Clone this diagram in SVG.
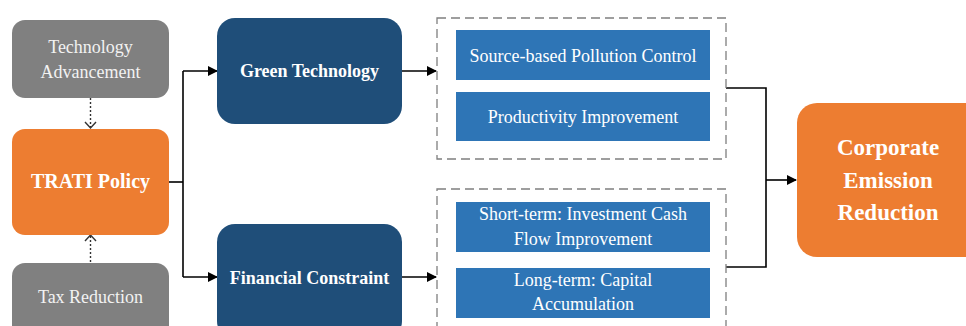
<svg xmlns="http://www.w3.org/2000/svg" width="966" height="326" viewBox="0 0 966 326">
<style>
text{font-family:"Liberation Serif","Times New Roman",serif;fill:#fff;text-anchor:middle}
.reg{font-size:18px}
.bold{font-weight:bold;font-size:18px}
.gray{fill:#808080}
.orange{fill:#ed7d31}
.dark{fill:#1f4e79}
.blue{fill:#2e75b6}
.dash{fill:none;stroke:#7f7f7f;stroke-width:1.3;stroke-dasharray:9,5}
.conn{fill:none;stroke:#000;stroke-width:1.6}
.dot{fill:none;stroke:#333;stroke-width:1.4;stroke-dasharray:2,2}
.chev{fill:none;stroke:#333;stroke-width:1.4}
</style>
<defs>
<marker id="tri" markerWidth="10" markerHeight="10" refX="9" refY="5" orient="auto" markerUnits="userSpaceOnUse">
<path d="M0,0 L10,5 L0,10 Z" fill="#000"/>
</marker>
</defs>
<rect width="966" height="326" fill="#fff"/>

<g id="connectors">
<path class="dot" d="M90.5,98 V127"/>
<path class="chev" d="M85,122 L90.5,128 L96,122"/>
<path class="dot" d="M90.5,262 V236"/>
<path class="chev" d="M85,241 L90.5,235 L96,241"/>
<path class="conn" d="M169,182 H183"/>
<path class="conn" d="M183,71 V277"/>
<path class="conn" d="M183,71 H217" marker-end="url(#tri)"/>
<path class="conn" d="M183,277 H217" marker-end="url(#tri)"/>
<path class="conn" d="M402,71 H436" marker-end="url(#tri)"/>
<path class="conn" d="M402,277 H436" marker-end="url(#tri)"/>
<path class="conn" d="M726,88 H766 V267 H726"/>
<path class="conn" d="M766,180 H796" marker-end="url(#tri)"/>
</g>

<g id="tech-adv">
<rect class="gray" x="12" y="20" width="157" height="78" rx="13"/>
<text class="reg" x="90.5" y="53" style="fill:#f2f2f2">Technology</text>
<text class="reg" x="90.5" y="78" style="fill:#f2f2f2">Advancement</text>
</g>
<g id="trati">
<rect class="orange" x="12" y="129" width="157" height="106" rx="13"/>
<text class="bold" x="90.5" y="188" style="font-size:20px">TRATI Policy</text>
</g>
<g id="tax">
<rect class="gray" x="12" y="263" width="157" height="80" rx="13"/>
<text class="reg" x="90.5" y="303" style="fill:#f2f2f2">Tax Reduction</text>
</g>
<g id="green-tech">
<rect class="dark" x="217" y="18" width="185" height="106" rx="18"/>
<text class="bold" x="309.5" y="77">Green Technology</text>
</g>
<g id="financial">
<rect class="dark" x="217" y="224" width="185" height="115" rx="18"/>
<text class="bold" x="309.5" y="284">Financial Constraint</text>
</g>
<g id="group-green">
<rect class="dash" x="437" y="18" width="289" height="141"/>
</g>
<g id="source">
<rect class="blue" x="456" y="30" width="254" height="50"/>
<text class="reg" x="583" y="62">Source-based Pollution Control</text>
</g>
<g id="productivity">
<rect class="blue" x="456" y="92" width="254" height="49"/>
<text class="reg" x="583" y="123">Productivity Improvement</text>
</g>
<g id="group-fin">
<rect class="dash" x="437" y="189" width="289" height="160"/>
</g>
<g id="short">
<rect class="blue" x="456" y="202" width="254" height="50"/>
<text class="reg" x="583" y="220">Short-term: Investment Cash</text>
<text class="reg" x="583" y="245">Flow Improvement</text>
</g>
<g id="long">
<rect class="blue" x="456" y="268" width="254" height="50"/>
<text class="reg" x="583" y="286">Long-term: Capital</text>
<text class="reg" x="583" y="310">Accumulation</text>
</g>
<g id="corporate">
<rect class="orange" x="797" y="103" width="200" height="154" rx="20"/>
<text class="bold" x="888" y="155" style="font-size:23px">Corporate</text>
<text class="bold" x="888" y="188" style="font-size:23px">Emission</text>
<text class="bold" x="888" y="220" style="font-size:23px">Reduction</text>
</g>
</svg>
